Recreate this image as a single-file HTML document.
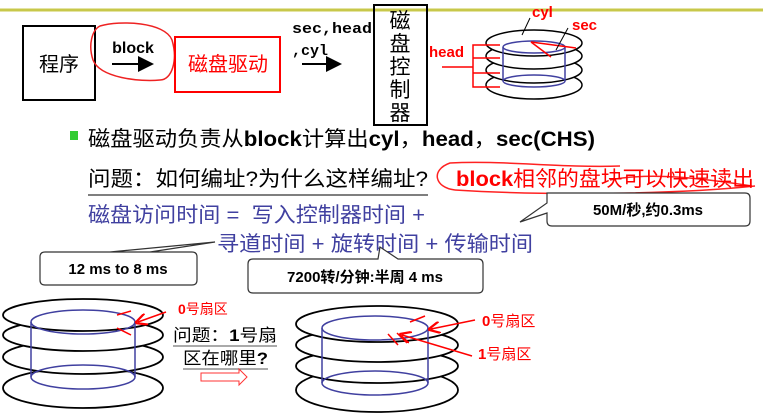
<!DOCTYPE html>
<html><head><meta charset="utf-8"><style>
html,body{margin:0;padding:0;background:#fff;}
svg{display:block;}
text{font-family:"Liberation Sans","Noto Sans CJK SC",sans-serif;}
text.mono{font-family:"Liberation Mono",monospace;}
</style></head><body>
<svg width="773" height="417" viewBox="0 0 773 417" xmlns="http://www.w3.org/2000/svg">
<defs>
<marker id="ah" markerWidth="8" markerHeight="8" refX="7" refY="4" orient="auto"><path d="M0,0 L8,4 L0,8 z" fill="#000"/></marker>
<marker id="ar" markerWidth="8" markerHeight="8" refX="6" refY="4" orient="auto"><path d="M0,0 L8,4 L0,8" fill="none" stroke="#f00" stroke-width="1.5"/></marker>
</defs>
<line x1="0" y1="10" x2="763" y2="10" stroke="#c8c84a" stroke-width="3"/>
<rect x="23" y="26" width="72" height="74" fill="none" stroke="#000" stroke-width="2"/>
<text x="59" y="71" font-size="20" text-anchor="middle">程序</text>
<text x="133" y="53" font-size="16" font-weight="bold" text-anchor="middle">block</text>
<line x1="112" y1="64" x2="152" y2="64" stroke="#000" stroke-width="2" marker-end="url(#ah)"/>
<path d="M100,26 C120,20 165,22 172,40 C178,60 172,80 160,80 C140,82 100,78 93,60 C88,45 92,30 100,26 z" fill="none" stroke="#e22" stroke-width="1.5"/>
<rect x="175" y="37" width="105" height="55" fill="none" stroke="#f00" stroke-width="2"/>
<text x="228" y="71" font-size="20" fill="#f00" text-anchor="middle">磁盘驱动</text>
<text class="mono" x="292" y="33" font-size="15" font-weight="bold" textLength="80" lengthAdjust="spacingAndGlyphs">sec,head</text>
<text class="mono" x="292" y="55" font-size="15" font-weight="bold">,cyl</text>
<line x1="302" y1="64" x2="340" y2="64" stroke="#000" stroke-width="2" marker-end="url(#ah)"/>
<rect x="374" y="5" width="53" height="120" fill="none" stroke="#000" stroke-width="2"/>
<g font-size="21" text-anchor="middle"><text x="400" y="28">磁</text><text x="400" y="51">盘</text><text x="400" y="74">控</text><text x="400" y="97">制</text><text x="400" y="120">器</text></g>
<g fill="#fff" stroke="#000" stroke-width="1.5">
<ellipse cx="534" cy="85" rx="48" ry="14"/><ellipse cx="534" cy="70" rx="48" ry="13"/><ellipse cx="534" cy="56" rx="48" ry="13"/><ellipse cx="534" cy="43" rx="48" ry="13"/>
</g>
<g fill="none" stroke="#4040a0" stroke-width="1.5"><ellipse cx="534" cy="47" rx="31" ry="6"/><ellipse cx="534" cy="81" rx="31" ry="6"/><line x1="503" y1="47" x2="503" y2="81"/><line x1="565" y1="47" x2="565" y2="81"/></g>
<g stroke="#f00" stroke-width="1.5" fill="none"><line x1="531" y1="42" x2="576" y2="48"/><line x1="531" y1="42" x2="551" y2="57"/>
<path d="M500,45 H473 V87 H500 M473,58 H500 M473,73 H500 M442,67 H473"/></g>
<line x1="522" y1="35" x2="530" y2="18" stroke="#000"/><line x1="556" y1="50" x2="568" y2="28" stroke="#000"/>
<g fill="#f00" font-weight="bold" font-size="15"><text x="532" y="17">cyl</text><text x="572" y="30">sec</text><text x="429" y="57">head</text></g>
<rect x="70" y="131" width="8" height="9" fill="#3c3"/>
<text x="88" y="146" font-size="21" textLength="507" lengthAdjust="spacingAndGlyphs">磁盘驱动负责从<tspan font-weight="bold">block</tspan>计算出<tspan font-weight="bold">cyl</tspan>，<tspan font-weight="bold">head</tspan>，<tspan font-weight="bold">sec(CHS)</tspan></text>
<text x="88" y="186" font-size="21" textLength="340" lengthAdjust="spacingAndGlyphs">问题：如何编址?为什么这样编址?</text>
<line x1="88" y1="195" x2="428" y2="195" stroke="#555" stroke-width="1.5"/>
<path d="M455,190 C435,188 430,170 450,163 C500,160 560,168 620,166" fill="none" stroke="#f22" stroke-width="1.5"/>
<path d="M610,180 C650,172 700,178 752,186" fill="none" stroke="#f22" stroke-width="1.5"/>
<path d="M455,190 C550,196 680,194 755,186" fill="none" stroke="#f22" stroke-width="1.5"/>
<text x="456" y="186" font-size="21" fill="#f00" font-weight="bold" textLength="298" lengthAdjust="spacingAndGlyphs">block<tspan font-weight="normal">相邻的盘块可以快速读出</tspan></text>
<path d="M547,193 H745 Q750,193 750,198 V221 Q750,226 745,226 H552 Q547,226 547,221 V213 L520,222 L547,203 Z" fill="#fff" stroke="#333" stroke-width="1.2"/>
<text x="648" y="215" font-size="15" font-weight="bold" text-anchor="middle">50M/秒,约0.3ms</text>
<text x="88" y="222" font-size="21" fill="#4040a0" textLength="337" lengthAdjust="spacingAndGlyphs">磁盘访问时间 = &#160;写入控制器时间 +</text>
<text x="217" y="251" font-size="21" fill="#4040a0" textLength="316" lengthAdjust="spacingAndGlyphs">寻道时间 + 旋转时间 + 传输时间</text>
<path d="M45,252 H192 Q197,252 197,257 V280 Q197,285 192,285 H45 Q40,285 40,280 V257 Q40,252 45,252 Z M110,252 L215,242 L150,252" fill="#fff" stroke="#333" stroke-width="1.2"/>
<text x="118" y="274" font-size="15" font-weight="bold" text-anchor="middle">12 ms to 8 ms</text>
<path d="M253,259 H378 L380,247 L398,259 H478 Q483,259 483,264 V288 Q483,293 478,293 H253 Q248,293 248,288 V264 Q248,259 253,259 Z" fill="#fff" stroke="#333" stroke-width="1.2"/>
<text x="365" y="282" font-size="15" font-weight="bold" text-anchor="middle">7200转/分钟:半周 4 ms</text>
<g fill="#fff" stroke="#000" stroke-width="1.8">
<ellipse cx="83" cy="388" rx="80" ry="20"/><ellipse cx="83" cy="357" rx="80" ry="17"/><ellipse cx="83" cy="335" rx="80" ry="16"/><ellipse cx="83" cy="315" rx="80" ry="16"/>
</g>
<g fill="none" stroke="#4040a0" stroke-width="1.5"><ellipse cx="83" cy="322" rx="52" ry="12"/><ellipse cx="83" cy="377" rx="52" ry="12"/><line x1="31" y1="322" x2="31" y2="377"/><line x1="135" y1="322" x2="135" y2="377"/></g>
<g stroke="#f00" stroke-width="1.5"><line x1="117" y1="315" x2="131" y2="311"/><line x1="117" y1="328" x2="131" y2="335"/><line x1="166" y1="312" x2="138" y2="322" marker-end="url(#ar)"/></g>
<text x="178" y="314" font-size="14" fill="#f00" font-weight="bold">0<tspan font-weight="normal">号扇区</tspan></text>
<text x="173" y="341" font-size="17" textLength="104" lengthAdjust="spacingAndGlyphs">问题：<tspan font-weight="bold">1</tspan>号扇</text>
<line x1="173" y1="346" x2="277" y2="346" stroke="#555"/>
<text x="183" y="364" font-size="17" textLength="85" lengthAdjust="spacingAndGlyphs">区在哪里<tspan font-weight="bold">?</tspan></text>
<line x1="183" y1="369" x2="268" y2="369" stroke="#555"/>
<path d="M201,373 H239 V369 L247,377 L239,385 V381 H201 Z" fill="#fff" stroke="#f33" stroke-width="1"/>
<g fill="#fff" stroke="#000" stroke-width="1.8">
<ellipse cx="377" cy="390" rx="81" ry="22"/><ellipse cx="377" cy="366" rx="81" ry="17"/><ellipse cx="377" cy="345" rx="81" ry="17"/><ellipse cx="377" cy="324" rx="81" ry="18"/>
</g>
<g fill="none" stroke="#4040a0" stroke-width="1.5"><ellipse cx="375" cy="328" rx="53" ry="12"/><ellipse cx="375" cy="383" rx="53" ry="12"/><line x1="322" y1="328" x2="322" y2="383"/><line x1="428" y1="328" x2="428" y2="383"/></g>
<g stroke="#f00" stroke-width="1.5"><line x1="410" y1="322" x2="425" y2="316"/><line x1="388" y1="334" x2="398" y2="345"/><line x1="397" y1="333" x2="407" y2="343"/>
<line x1="475" y1="320" x2="431" y2="329" marker-end="url(#ar)"/><line x1="472" y1="356" x2="402" y2="335" marker-end="url(#ar)"/></g>
<text x="482" y="326" font-size="15" fill="#f00" font-weight="bold">0<tspan font-weight="normal">号扇区</tspan></text>
<text x="478" y="359" font-size="15" fill="#f00" font-weight="bold">1<tspan font-weight="normal">号扇区</tspan></text>
</svg>
</body></html>
